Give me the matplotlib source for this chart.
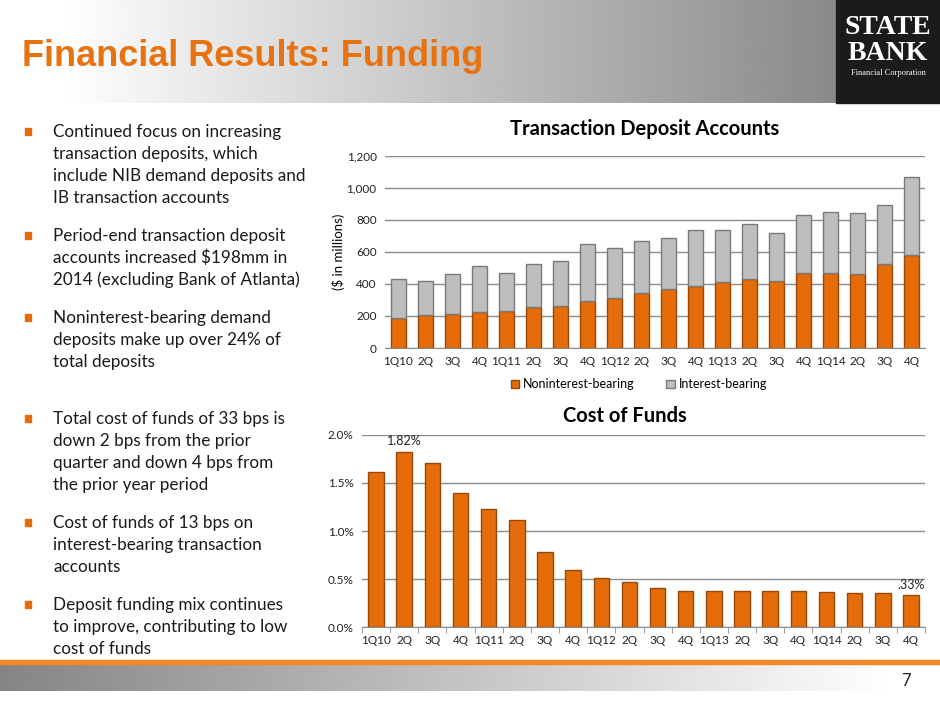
import numpy as np
import matplotlib
matplotlib.use("Agg")
import matplotlib.pyplot as plt
from matplotlib.patches import Rectangle

quarters = ["1Q10", "2Q", "3Q", "4Q", "1Q11", "2Q", "3Q", "4Q", "1Q12", "2Q",
            "3Q", "4Q", "1Q13", "2Q", "3Q", "4Q", "1Q14", "2Q", "3Q", "4Q"]

# transaction deposit accounts, $ in millions
nonint_bearing = [185, 205, 215, 225, 230, 255, 260, 295, 315, 345,
                  370, 385, 410, 430, 420, 465, 470, 460, 525, 580]
total_deposits = [430, 421, 463, 511, 467, 525, 542, 650, 625, 670,
                  685, 737, 737, 774, 716, 830, 849, 845, 895, 1069]
int_bearing = [t - n for t, n in zip(total_deposits, nonint_bearing)]

# cost of funds, %
cost_of_funds = [1.61, 1.82, 1.71, 1.40, 1.23, 1.11, 0.78, 0.59, 0.51, 0.47,
                 0.41, 0.38, 0.37, 0.37, 0.37, 0.37, 0.36, 0.35, 0.35, 0.33]
cof_labels = {1: "1.82%", 19: ".33%"}

bullets_top = [
    ["Continued focus on increasing", "transaction deposits, which",
     "include NIB demand deposits and", "IB transaction accounts"],
    ["Period-end transaction deposit", "accounts increased \\$198mm in",
     "2014 (excluding Bank of Atlanta)"],
    ["Noninterest-bearing demand", "deposits make up over 24% of",
     "total deposits"],
]
bullets_bottom = [
    ["Total cost of funds of 33 bps is", "down 2 bps from the prior",
     "quarter and down 4 bps from", "the prior year period"],
    ["Cost of funds of 13 bps on", "interest-bearing transaction",
     "accounts"],
    ["Deposit funding mix continues", "to improve, contributing to low",
     "cost of funds"],
]

ORANGE = "#E46C0A"
ORANGE_EDGE = "#9A4806"
GRAY = "#BEBEBE"
GRAY_EDGE = "#7A7A7A"
TITLE_ORANGE = "#E8720F"
BODY = "Lato"

W, H = 940, 705
fig = plt.figure(figsize=(9.4, 7.05), dpi=100)

# background / slide decoration in pixel coordinates
bg = fig.add_axes([0, 0, 1, 1])
bg.set_xlim(0, W)
bg.set_ylim(H, 0)
bg.axis("off")

# header gradient: white at left to gray on the right
grad = np.clip((np.linspace(0, 1, 400) - 0.07) / 0.93, 0, 1)
hdr = 1 - grad * (1 - 0.54)
bg.imshow(np.tile(hdr, (2, 1)), cmap="gray", vmin=0, vmax=1, aspect="auto",
          extent=(0, 836, 103, 0), interpolation="bilinear")
bg.add_patch(Rectangle((836, 0), 104, 103, color="#1C1A1A"))
bg.text(888, 28, "STATE", color="white", family="Liberation Serif",
        weight="bold", fontsize=20, ha="center", va="center")
bg.text(888, 53, "BANK", color="white", family="Liberation Serif",
        weight="bold", fontsize=20, ha="center", va="center")
bg.text(888, 73, "Financial Corporation", color="white",
        family="Liberation Serif", fontsize=6, ha="center", va="center")
bg.text(22, 57, "Financial Results: Funding", color=TITLE_ORANGE,
        family="Liberation Sans", weight="bold", fontsize=26, ha="left",
        va="center")

# footer
bg.add_patch(Rectangle((0, 660), W, 3.5, color="#F0882A"))
ftr = 0.52 + np.clip(np.linspace(0, 1, 400) / 0.95, 0, 1) * 0.48
bg.imshow(np.tile(ftr, (2, 1)), cmap="gray", vmin=0, vmax=1, aspect="auto",
          extent=(0, W, 691, 664), interpolation="bilinear")
bg.text(906, 681, "7", fontsize=12, family=BODY, ha="center", va="center",
        color="#222222")

# bullet text
def draw_bullets(blocks, y0):
    y = y0
    for block in blocks:
        bg.add_patch(Rectangle((25, y - 4), 6, 7, color=ORANGE))
        for line in block:
            bg.text(53, y, line, fontsize=12.3, family=BODY, ha="left",
                    va="center", color="#1a1a1a")
            y += 22
        y += 16

draw_bullets(bullets_top, 132)
draw_bullets(bullets_bottom, 419)

x = np.arange(len(quarters))

# top chart: transaction deposit accounts
ax1 = fig.add_axes([385 / W, 1 - 348 / H, 540 / W, (348 - 155.7) / H])
ax1.bar(x, nonint_bearing, width=0.52, color=ORANGE, edgecolor=ORANGE_EDGE,
        linewidth=1.0, label="Noninterest-bearing", zorder=3)
ax1.bar(x, int_bearing, bottom=nonint_bearing, width=0.52, color=GRAY,
        edgecolor=GRAY_EDGE, linewidth=1.0, label="Interest-bearing", zorder=3)
ax1.set_ylim(0, 1200)
ax1.set_xlim(-0.5, len(quarters) - 0.5)
ax1.set_yticks(range(0, 1201, 200))
ax1.set_yticklabels([f"{v:,}" for v in range(0, 1201, 200)])
ax1.set_xticks(x)
ax1.set_xticklabels(quarters)
ax1.grid(axis="y", color="#8C8C8C", linewidth=1.0, zorder=0)
ax1.tick_params(length=0, labelsize=8.5, colors="#222222", pad=6)
for s in ["top", "right", "left"]:
    ax1.spines[s].set_visible(False)
ax1.spines["bottom"].set_color("#8C8C8C")
ax1.set_title("Transaction Deposit Accounts", family=BODY, weight="bold",
              fontsize=14.5, pad=15, x=0.48)
ax1.set_ylabel("($ in millions)", family=BODY, fontsize=9.5, labelpad=1)
for lab in ax1.get_xticklabels() + ax1.get_yticklabels():
    lab.set_family(BODY)
ax1.legend(loc="upper center", bbox_to_anchor=(0.47, -0.1), ncol=2,
           frameon=False, prop={"family": BODY, "size": 9}, handlelength=0.7,
           handleheight=0.7, columnspacing=2.5, handletextpad=0.3)

# bottom chart: cost of funds
ax2 = fig.add_axes([362 / W, 1 - 627 / H, 563 / W, (627 - 435) / H])
ax2.bar(x, cost_of_funds, width=0.55, color=ORANGE, edgecolor=ORANGE_EDGE,
        linewidth=1.0, zorder=3)
for i, txt in cof_labels.items():
    ax2.text(x[i], cost_of_funds[i] + 0.05, txt, ha="center", va="bottom",
             family=BODY, fontsize=9, color="#222222")
ax2.set_ylim(0, 2.0)
ax2.set_xlim(-0.5, len(quarters) - 0.5)
ax2.set_yticks([0, 0.5, 1.0, 1.5, 2.0])
ax2.set_yticklabels(["0.0%", "0.5%", "1.0%", "1.5%", "2.0%"])
ax2.set_xticks(x)
ax2.set_xticklabels(quarters)
ax2.set_xticks(np.arange(-0.5, len(quarters)), minor=True)
ax2.grid(axis="y", color="#8C8C8C", linewidth=1.0, zorder=0)
ax2.tick_params(axis="both", which="major", length=0, labelsize=8.5,
                colors="#222222", pad=6)
ax2.tick_params(axis="x", which="minor", length=4, color="#8C8C8C")
for s in ["top", "right", "left"]:
    ax2.spines[s].set_visible(False)
ax2.spines["bottom"].set_color("#8C8C8C")
ax2.set_title("Cost of Funds", family=BODY, weight="bold", fontsize=14.5,
              pad=9, x=0.467)
for lab in ax2.get_xticklabels() + ax2.get_yticklabels():
    lab.set_family(BODY)

fig.savefig("out.png", dpi=100)
